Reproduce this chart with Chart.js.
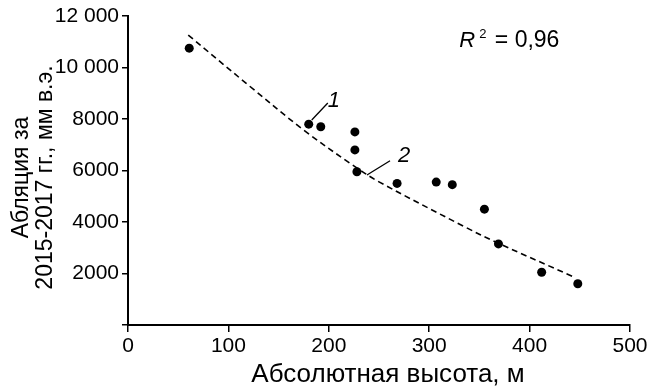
<!DOCTYPE html>
<html>
<head>
<meta charset="utf-8">
<script src="https://cdn.jsdelivr.net/npm/chart.js@4.4.1/dist/chart.umd.min.js"></script>
<style>
  html, body { margin: 0; padding: 0; background: #fff; }
  #wrap { width: 664px; height: 389px; }
</style>
</head>
<body>
<div id="wrap"><canvas id="ablationChart" width="664" height="389"></canvas></div>
<script>
// measured points: altitude (m) vs ablation 2015-2017 (mm w.e.)
const altitude = [61, 180, 192, 226, 226, 228, 268, 307, 323, 355, 369, 412, 448];
const ablation = [10750, 7800, 7700, 7500, 6800, 5950, 5500, 5550, 5450, 4500, 3150, 2050, 1600];

// dashed trend curve
const trendAltitude = [60, 121, 175, 226, 250, 335, 368, 445];
const trendAblation = [11260, 9280, 7570, 6150, 5560, 3820, 3190, 1850];

const xTicks = [0, 100, 200, 300, 400, 500];
const xTickLabels = ['0', '100', '200', '300', '400', '500'];
const yTicks = [0, 2000, 4000, 6000, 8000, 10000, 12000];
const yTickLabels = ['', '2000', '4000', '6000', '8000', '10 000', '12 000'];

const xTitle = 'Абсолютная высота, м';
const yTitle = ['Абляция за', '2015-2017 гг., мм в.э.'];

const FONT = "'Liberation Sans', Arial, sans-serif";

// label anchors in data units
const notes = [
  { text: '1', at: [205, 8466], from: [183, 7961], to: [199, 8621] },
  { text: '2', at: [275, 6342], from: [238, 5825], to: [261, 6380] }
];
const r2At = [330, 10808];

const annotate = {
  id: 'annotate',
  afterDatasetsDraw(chart) {
    const ctx = chart.ctx;
    const x = chart.scales.x, y = chart.scales.y;
    ctx.save();
    ctx.fillStyle = '#000';
    ctx.strokeStyle = '#000';
    ctx.lineWidth = 1.3;
    notes.forEach(n => {
      ctx.beginPath();
      ctx.moveTo(x.getPixelForValue(n.from[0]), y.getPixelForValue(n.from[1]));
      ctx.lineTo(x.getPixelForValue(n.to[0]), y.getPixelForValue(n.to[1]));
      ctx.stroke();
      ctx.font = 'italic 22px ' + FONT;
      ctx.textAlign = 'center';
      ctx.textBaseline = 'alphabetic';
      ctx.fillText(n.text, x.getPixelForValue(n.at[0]), y.getPixelForValue(n.at[1]));
    });

    // R^2 = 0,96
    let px = x.getPixelForValue(r2At[0]);
    const py = y.getPixelForValue(r2At[1]);
    ctx.textAlign = 'left';
    ctx.font = 'italic 22px ' + FONT;
    ctx.fillText('R', px, py);
    px += ctx.measureText('R').width + 4;
    ctx.font = '13px ' + FONT;
    ctx.fillText('2', px, py - 9);
    px += ctx.measureText('2').width + 2;
    ctx.font = '23px ' + FONT;
    ctx.fillText(' = 0,96', px, py);

    // axis titles
    const area = chart.chartArea;
    ctx.font = '26px ' + FONT;
    ctx.textAlign = 'center';
    ctx.fillText(xTitle, (area.left + area.right) / 2 + 9, 382);
    ctx.save();
    ctx.translate(0, (area.top + area.bottom) / 2 + 7);
    ctx.rotate(-Math.PI / 2);
    ctx.font = '23px ' + FONT;
    ctx.textBaseline = 'middle';
    ctx.fillText(yTitle[0], 0, 22);
    ctx.fillText(yTitle[1], 0, 46);
    ctx.restore();
    ctx.restore();
  }
};

const ctx = document.getElementById('ablationChart').getContext('2d');
new Chart(ctx, {
  type: 'scatter',
  data: {
    datasets: [
      {
        label: 'points',
        data: altitude.map((a, i) => ({ x: a, y: ablation[i] })),
        backgroundColor: '#000',
        borderColor: '#000',
        pointRadius: 4.5,
        pointBorderWidth: 0
      },
      {
        label: 'trend',
        data: trendAltitude.map((a, i) => ({ x: a, y: trendAblation[i] })),
        showLine: true,
        borderColor: '#000',
        borderWidth: 1.6,
        borderDash: [6, 4],
        pointRadius: 0,
        tension: 0.35,
        fill: false
      }
    ]
  },
  options: {
    responsive: false,
    animation: false,
    devicePixelRatio: 1,
    layout: { padding: { top: 16, right: 34, left: 0, bottom: 0 } },
    plugins: { legend: { display: false }, tooltip: { enabled: false } },
    scales: {
      x: {
        type: 'linear', min: 0, max: 500,
        afterBuildTicks: s => { s.ticks = xTicks.map(v => ({ value: v })); },
        afterFit: s => { s.height = 64; },
        border: { display: true, color: '#000', width: 2 },
        grid: { drawOnChartArea: false, color: '#000', lineWidth: 1.5, tickLength: 7 },
        ticks: {
          color: '#000', padding: 2, maxRotation: 0,
          font: { family: FONT, size: 21 },
          callback: (v, i) => xTickLabels[i]
        }
      },
      y: {
        type: 'linear', min: 0, max: 12000,
        afterBuildTicks: s => { s.ticks = yTicks.map(v => ({ value: v })); },
        afterFit: s => { s.width = 128; },
        border: { display: true, color: '#000', width: 2 },
        grid: { drawOnChartArea: false, color: '#000', lineWidth: 1.5, tickLength: 6 },
        ticks: {
          color: '#000', padding: 3,
          font: { family: FONT, size: 21 },
          callback: (v, i) => yTickLabels[i]
        }
      }
    }
  },
  plugins: [annotate]
});
</script>
</body>
</html>
